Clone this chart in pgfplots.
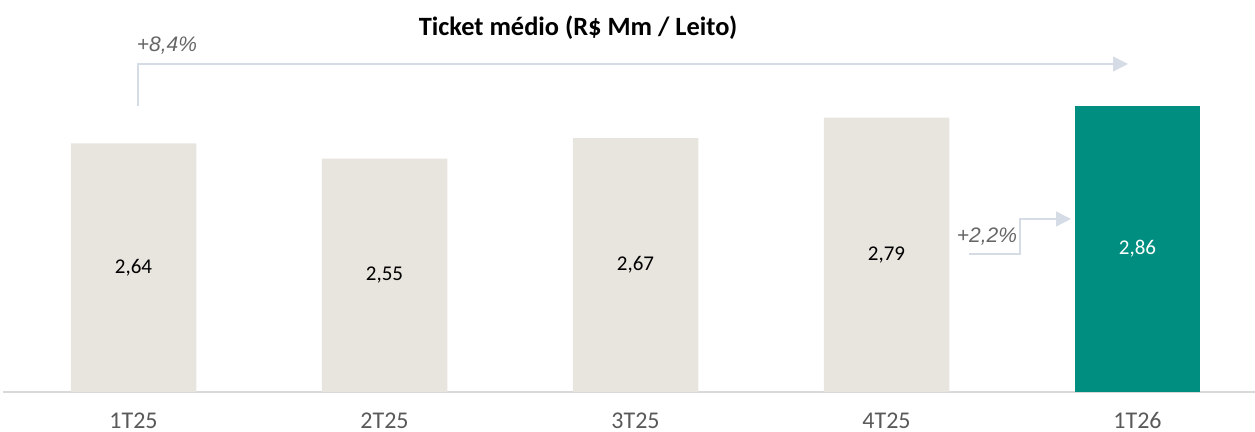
\documentclass[border=0pt]{standalone}
\usepackage{fontspec}
\setmainfont{Carlito}
\newfontfamily\arial{Liberation Sans}
\usepackage{pgfplots}
\pgfplotsset{compat=1.18}
\usetikzlibrary{arrows.meta}
\definecolor{beige}{HTML}{E8E5DF}
\definecolor{tealbar}{HTML}{008E80}
\definecolor{arrowc}{HTML}{D6DCE5}
\definecolor{axisc}{HTML}{D9D9D9}
\definecolor{txtgrey}{HTML}{595959}
\definecolor{pctgrey}{HTML}{666666}
\begin{document}
\begin{tikzpicture}
\useasboundingbox (0,0) rectangle (627.5pt,216pt);
\begin{axis}[
  at={(1.5pt,20pt)}, anchor=south west,
  width=626pt, height=196pt, scale only axis,
  xmin=-0.52, xmax=4.468, ymin=1.19, ymax=3.4757,
  axis x line*=bottom, hide y axis,
  axis line style={draw=axisc, line width=1pt},
  xtick={0,1,2,3,4},
  xticklabels={1T25,2T25,3T25,4T25,1T26},
  major tick length=0pt,
  xticklabel style={anchor=base, inner sep=0pt, yshift=-18.2pt, text=txtgrey, font=\fontsize{12}{14}\selectfont},
  clip=false,
  /pgf/number format/use comma,
  /pgf/number format/fixed,
  /pgf/number format/fixed zerofill,
  /pgf/number format/precision=2,
  /pgf/number format/assume math mode=true,
  visualization depends on={rawy \as \rawy},
  every node near coord/.style={anchor=center, font=\fontsize{10.5}{12}\selectfont, yshift={-(\rawy-1.19)*42.875pt}},
]
\addplot[ybar, bar width=0.5, bar shift=0pt, fill=beige, draw=none, nodes near coords, every node near coord/.append style={text=black}]
  coordinates {(0,2.64) (1,2.55) (2,2.67) (3,2.79)};
\addplot[ybar, bar width=0.5, bar shift=0pt, fill=tealbar, draw=none, nodes near coords, every node near coord/.append style={text=white}]
  coordinates {(4,2.86)};
\end{axis}
\begin{scope}[x=0.5pt, y=-0.5pt, shift={(0pt,216pt)}]
\node[font=\bfseries\fontsize{13.2}{16}\selectfont] at (578,28) {Ticket médio (R\$ Mm / Leito)};
\node[font=\arial\itshape\fontsize{10.5}{12}\selectfont, text=pctgrey] at (167,46) {+8,4\%};
\node[font=\arial\itshape\fontsize{10.5}{12}\selectfont, text=pctgrey] at (987,237) {+2,2\%};
\draw[arrowc, line width=0.75pt, -{Triangle[length=7.5pt,width=7.5pt]}] (138,106) -- (138,64) -- (1128,64);
\draw[arrowc, line width=0.75pt, -{Triangle[length=7.5pt,width=7.5pt]}] (969,254) -- (1020,254) -- (1020,219) -- (1071,219);
\end{scope}
\end{tikzpicture}
\end{document}
